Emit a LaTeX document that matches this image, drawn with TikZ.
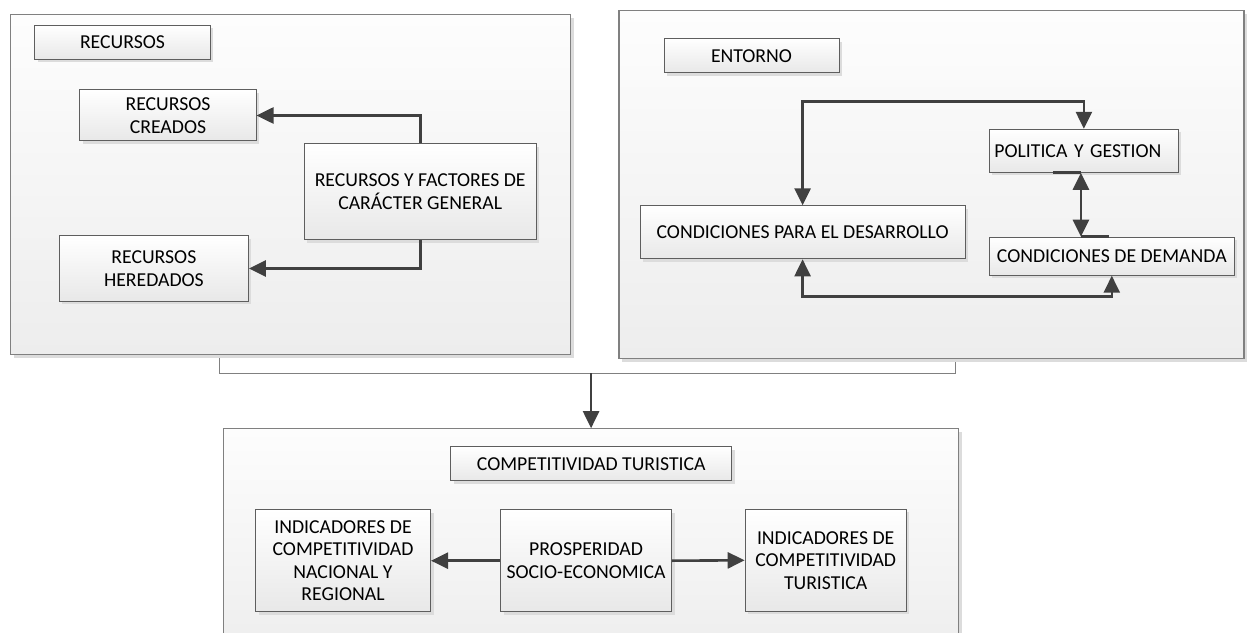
\documentclass[tikz,border=0pt]{standalone}
\usepackage{fontspec}
\setmainfont{Carlito}
\usetikzlibrary{arrows.meta}
\usetikzlibrary{shadows}
\definecolor{panelTopColor}{HTML}{FDFDFD}
\definecolor{panelBottomColor}{HTML}{EDEDED}
\definecolor{boxTopColor}{HTML}{FFFFFF}
\definecolor{boxBottomColor}{HTML}{E8E8E8}
\definecolor{panelBorderColor}{HTML}{808080}
\definecolor{boxBorderColor}{HTML}{5E5E5E}
\definecolor{shadowColor}{HTML}{DCDCDC}
\definecolor{linkColor}{HTML}{404040}

\begin{document}
\begin{tikzpicture}[x=1bp,y=-1bp,
  >={Triangle[length=17bp,width=16bp]},
  panel/.style={draw=panelBorderColor, line width=1.2bp,
    top color=panelTopColor, bottom color=panelBottomColor,
    drop shadow={shadow xshift=3bp, shadow yshift=-3bp, fill=shadowColor, opacity=1}},
  box/.style={draw=boxBorderColor, line width=1bp,
    top color=boxTopColor, bottom color=boxBottomColor,
    drop shadow={shadow xshift=3bp, shadow yshift=-3bp, fill=shadowColor, opacity=1},
    align=center, inner sep=2bp, font=\fontsize{19.8}{22.6}\selectfont},
  link/.style={draw=linkColor, line width=2.6bp, ->}]

\useasboundingbox (0, 0) rectangle (1247, 633);
\clip (0, 0) rectangle (1247, 633);
\fill[white] (0, 0) rectangle (1247, 633);

% group layer
\begin{scope}
\node[minimum width=735bp, minimum height=33bp] (groupBox) at (587.5, 356.5) {};
\draw[shadowColor, line width=2bp, xshift=3bp, yshift=-3bp]
  (groupBox.north west) -- (groupBox.south west) -- (groupBox.south east) -- (groupBox.north east);
\draw[panelBorderColor, line width=1.2bp, fill=white]
  (groupBox.north west) -- (groupBox.south west) -- (groupBox.south east) -- (groupBox.north east);
\end{scope}

% panel layer
\begin{scope}
\node[panel, minimum width=560bp, minimum height=340bp] (recursosPanel) at (290.6, 184.8) {};
\node[panel, minimum width=625bp, minimum height=348bp] (entornoPanel) at (931.5, 184.8) {};
\node[panel, minimum width=735bp, minimum height=231bp] (compPanel) at (591.1, 544.3) {};
\end{scope}

% box layer
\begin{scope}
\node[box, minimum width=175bp, minimum height=34bp] (recursosLabel) at (122.5, 42.2) {RECURSOS};
\node[box, minimum width=176bp, minimum height=51bp] (creados) at (168, 115.5) {RECURSOS\\CREADOS};
\node[box, minimum width=232bp, minimum height=96bp] (factores) at (420.2, 191.8) {RECURSOS Y FACTORES DE\\CARÁCTER GENERAL};
\node[box, minimum width=189bp, minimum height=65bp] (heredados) at (153.9, 268.5) {RECURSOS\\HEREDADOS};

\node[box, minimum width=175bp, minimum height=34bp] (entornoLabel) at (751.5, 55.8) {ENTORNO};
\node[box, align=left, text width=179bp, inner xsep=5bp, minimum height=43bp] (politica) at (1083.9, 150.8) {POLITICA Y GESTION};
\node[box, minimum width=325bp, minimum height=53bp] (desarrollo) at (802.6, 232.3) {CONDICIONES PARA EL DESARROLLO};
\node[box, minimum width=245bp, minimum height=38bp] (demanda) at (1111.8, 256.2) {CONDICIONES DE DEMANDA};

\node[box, minimum width=281bp, minimum height=34bp] (compLabel) at (591.3, 463.7) {COMPETITIVIDAD TURISTICA};
\node[box, minimum width=175bp, minimum height=102bp] (indNacional) at (343, 560.7) {INDICADORES DE\\COMPETITIVIDAD\\NACIONAL Y\\REGIONAL};
\node[box, minimum width=171bp, minimum height=102bp, inner xsep=0bp] (prosperidad) at (586.1, 560.7) {PROSPERIDAD\\SOCIO-ECONOMICA};
\node[box, minimum width=161bp, minimum height=102bp] (indTuristica) at (825.7, 560.3) {INDICADORES DE\\COMPETITIVIDAD\\TURISTICA};
\end{scope}

% link layer
\begin{scope}
\draw[link] (factores.north) |- (creados.east);
\draw[link] (factores.south) |- (heredados.east);

\draw[link, <->] (politica.north) -- ++(0, -27) -| (desarrollo.north);
\draw[link, <->] (desarrollo.south) -- ++(0, 37) -| (demanda.south);
\draw[link, <->] ([xshift=-3bp]politica.south) -- ([xshift=-3bp]politica.south |- demanda.north);
\draw[draw=linkColor, line width=2.6bp] ([xshift=-31bp]politica.south) -- ([xshift=-3bp]politica.south);
\draw[draw=linkColor, line width=2.6bp] ([xshift=-3bp]politica.south |- demanda.north) -- ([xshift=25bp]politica.south |- demanda.north);

\draw[link] (compPanel.north |- groupBox.south) -- (compPanel.north);

\draw[link] (prosperidad.west) -- (indNacional.east);
\draw[link] (prosperidad.east) -- (indTuristica.west);
\end{scope}

\end{tikzpicture}
\end{document}
